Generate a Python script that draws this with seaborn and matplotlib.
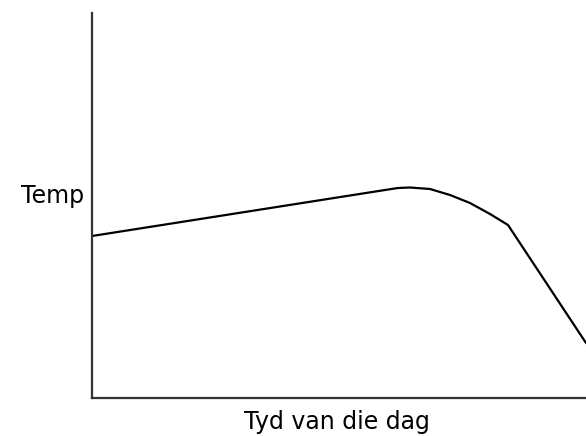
"""Sketch of temperature over the course of the day."""

import matplotlib.pyplot as plt
import pandas as pd
import seaborn as sns

# Data (arbitrary units)
time_of_day = [0, 293, 306, 318, 338, 358, 378, 398, 416, 494]
temperature = [162, 208, 210, 210.5, 209, 203, 195, 184, 173, 55]

x_label = "Tyd van die dag"
y_label = "Temp"

df = pd.DataFrame({"time": time_of_day, "temp": temperature})

sns.set_style("white")
plt.rcParams["font.family"] = ["DejaVu Sans"]

fig = plt.figure(figsize=(5.86, 4.36), dpi=100)
ax = fig.add_axes([92 / 586, 38 / 436, 494 / 586, 385 / 436])

sns.lineplot(
    data=df,
    x="time",
    y="temp",
    sort=False,
    estimator=None,
    color="black",
    linewidth=1.6,
    ax=ax,
)

ax.set_xlim(0, 494)
ax.set_ylim(0, 385)
ax.set_xticks([])
ax.set_yticks([])

sns.despine(ax=ax)
for side in ["left", "bottom"]:
    ax.spines[side].set_color("#333333")
    ax.spines[side].set_linewidth(1.6)

ax.set_xlabel(x_label, fontsize=17, color="black")
ax.xaxis.set_label_coords((337 - 92) / 494, -(422 - 398) / 385)
ax.xaxis.label.set_va("center")
ax.set_ylabel(y_label, fontsize=17, color="black", rotation=0, ha="right", va="center")
ax.yaxis.set_label_coords(-8 / 494, (398 - 196) / 385)

fig.savefig("out.png", dpi=100)
